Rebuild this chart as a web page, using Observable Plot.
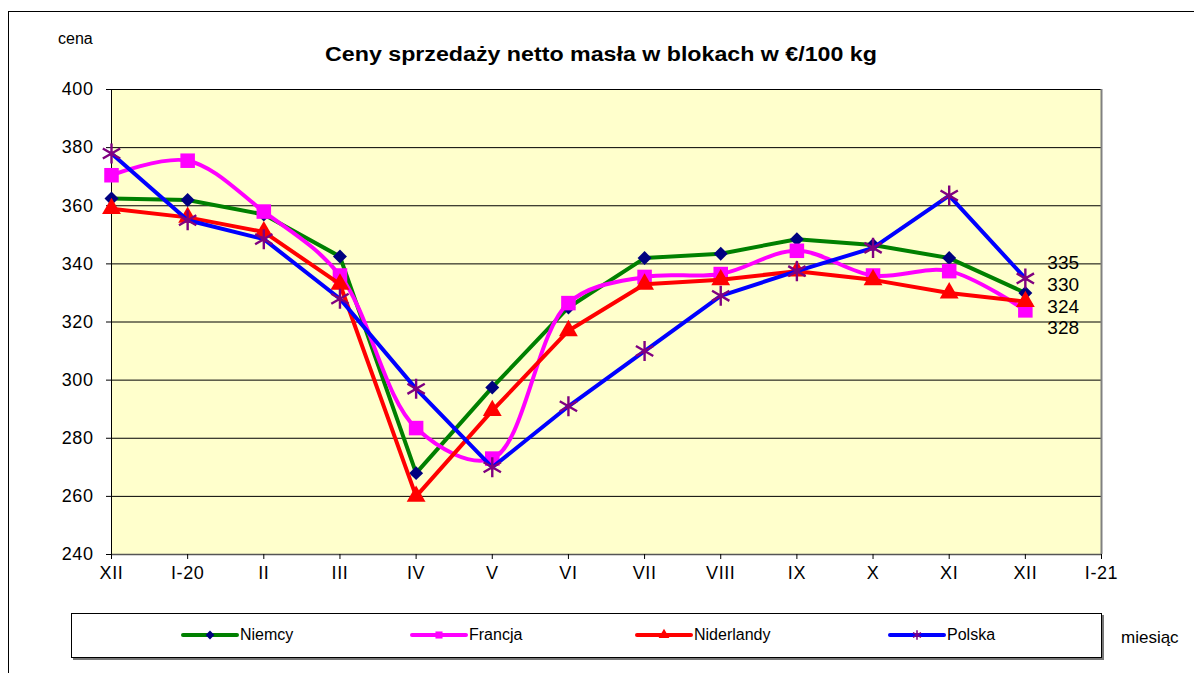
<!DOCTYPE html>
<html>
<head>
<meta charset="utf-8">
<script src="https://cdn.jsdelivr.net/npm/d3@7"></script>
<script src="https://cdn.jsdelivr.net/npm/@observablehq/plot@0.6"></script>
<style>
  html, body { margin: 0; padding: 0; background: #fff; overflow: hidden; }
  #wrap { position: relative; width: 1194px; height: 673px; font-family: "Liberation Sans", Arial, sans-serif; }
  #border { position: absolute; left: 8px; top: 11px; width: 1300px; height: 800px; border-left: 1px solid #000; border-top: 1px solid #000; box-sizing: border-box; }
  #chart { position: absolute; left: 0; top: 0; }
  .txt { position: absolute; white-space: nowrap; color: #000; }
  #title { left: 0; width: 1202px; top: 43px; text-align: center; font-weight: bold; font-size: 20px; transform: scaleX(1.16); transform-origin: 601px 0; }
  #cena { left: 58px; top: 30px; font-size: 16px; }
  #miesiac { left: 1121px; top: 628px; font-size: 17px; }
  #legend { position: absolute; left: 71px; top: 613px; width: 1031px; height: 45px; border: 1px solid #000; box-sizing: border-box; box-shadow: 2px 2px 0 #777; background: #fff; }
  .item { position: absolute; top: 11px; height: 20px; display: flex; align-items: center; font-size: 16px; }
  #chart svg g[aria-label="x-axis tick label"] text, #chart svg g[aria-label="y-axis tick label"] text { letter-spacing: 0.6px; }
</style>
</head>
<body>
<div id="wrap">
  <div id="border"></div>
  <div id="chart"></div>
  <div class="txt" id="title">Ceny sprzedaży netto masła w blokach w €/100 kg</div>
  <div class="txt" id="cena">cena</div>
  <div class="txt" id="miesiac">miesiąc</div>
  <div id="legend"></div>
</div>
<script>
// ---- data ----
const months = ["XII", "I-20", "II", "III", "IV", "V", "VI", "VII", "VIII", "IX", "X", "XI", "XII", "I-21"];
const niemcy     = [362.5, 362, 357, 342.5, 268, 297.5, 325, 342, 343.5, 348.5, 346.5, 342, 330];
const francja    = [370.5, 375.5, 358, 336, 283.5, 273, 326.5, 335.5, 336.5, 344.5, 336, 337.5, 324];
const niderlandy = [359, 356, 351, 333, 260, 289.5, 317, 333, 334.5, 337.5, 334.5, 330, 327];
const polska     = [378, 355, 348.5, 328, 297, 270, 291, 310, 329, 337.5, 345.5, 363.5, 335];
const seriesNames = ["Niemcy", "Francja", "Niderlandy", "Polska"];
const endLabels = ["330", "324", "328", "335"];
const yTicks = [240, 260, 280, 300, 320, 340, 360, 380, 400];

const series = [
  {name: seriesNames[0], values: niemcy, line: "#008000", mark: "#000080", symbol: "diamond2", r: 6.3, curve: "linear", label: endLabels[0], ldy: -8},
  {name: seriesNames[1], values: francja, line: "#FF00FF", mark: "#FF00FF", symbol: "square", r: 8.2, curve: "catmull-rom", label: endLabels[1], ldy: -3},
  {name: seriesNames[2], values: niderlandy, line: "#FF0000", mark: "#FF0000", symbol: "triangle", r: 7, curve: "linear", label: endLabels[2], ldy: 26},
  {name: seriesNames[3], values: polska, line: "#0000FF", mark: "#800080", symbol: "asterisk", r: 9.5, curve: "linear", label: endLabels[3], ldy: -16}
];

const marks = [
  Plot.frame({fill: "#FFFFCC", stroke: null}),
  Plot.gridY(yTicks.filter(d => d > 240), {stroke: "#000", strokeOpacity: 1, strokeWidth: 1}),
  Plot.ruleX([13], {stroke: "#808080", strokeWidth: 2}),
  Plot.ruleY([240], {stroke: "#555", strokeWidth: 1.5}),
  Plot.ruleX([0], {stroke: "#000", strokeWidth: 1}),
  Plot.axisX({ticks: d3.range(14), tickFormat: i => months[i], tickSize: 5, tickPadding: 7, fontSize: 18, label: null}),
  Plot.axisY({ticks: yTicks, tickSize: 5, tickPadding: 13, fontSize: 18, label: null})
];

for (const s of series) {
  const data = s.values.map((v, i) => ({i, v}));
  marks.push(Plot.line(data, {x: "i", y: "v", stroke: s.line, strokeWidth: 4, curve: s.curve}));
  if (s.symbol === "asterisk") {
    marks.push(Plot.dot(data, {x: "i", y: "v", symbol: "asterisk", stroke: s.mark, strokeWidth: 2.4, r: s.r}));
  } else {
    marks.push(Plot.dot(data, {x: "i", y: "v", symbol: s.symbol, fill: s.mark, stroke: null, r: s.r}));
  }
}
for (const s of series) {
  const last = s.values.length - 1;
  marks.push(Plot.text([{i: last, v: s.values[last], t: s.label}], {
    x: "i", y: "v", text: "t", dx: 22, dy: s.ldy, textAnchor: "start", fontSize: 19, fill: "#000"
  }));
}

const chart = Plot.plot({
  width: 1194,
  height: 673,
  marginLeft: 111,
  marginRight: 93,
  marginTop: 89,
  marginBottom: 119,
  style: {fontFamily: "'Liberation Sans', Arial, sans-serif", fontSize: "16px", color: "#000", background: "transparent", overflow: "visible"},
  x: {type: "linear", domain: [0, 13], label: null},
  y: {domain: [240, 400], label: null},
  marks
});
document.getElementById("chart").appendChild(chart);

// ---- legend ----
const legend = document.getElementById("legend");
const legendX = [109, 338, 563, 816];
series.forEach((s, k) => {
  const item = document.createElement("div");
  item.className = "item";
  item.style.left = legendX[k] + "px";
  const svg = d3.create("svg").attr("width", 58).attr("height", 20);
  svg.append("line").attr("x1", 2).attr("x2", 56).attr("y1", 10).attr("y2", 10)
    .attr("stroke", s.line).attr("stroke-width", 4).attr("stroke-linecap", "round");
  const typeMap = {diamond2: d3.symbolDiamond2, square: d3.symbolSquare, triangle: d3.symbolTriangle, asterisk: d3.symbolAsterisk};
  const sym = d3.symbol(typeMap[s.symbol], s.symbol === "asterisk" ? 60 : 50);
  const p = svg.append("path").attr("d", sym()).attr("transform", "translate(29,10)");
  if (s.symbol === "asterisk") p.attr("fill", "none").attr("stroke", s.mark).attr("stroke-width", 1.5);
  else p.attr("fill", s.mark);
  item.appendChild(svg.node());
  const t = document.createElement("span");
  t.textContent = s.name;
  t.style.marginLeft = "1px";
  item.appendChild(t);
  legend.appendChild(item);
});
</script>
</body>
</html>
